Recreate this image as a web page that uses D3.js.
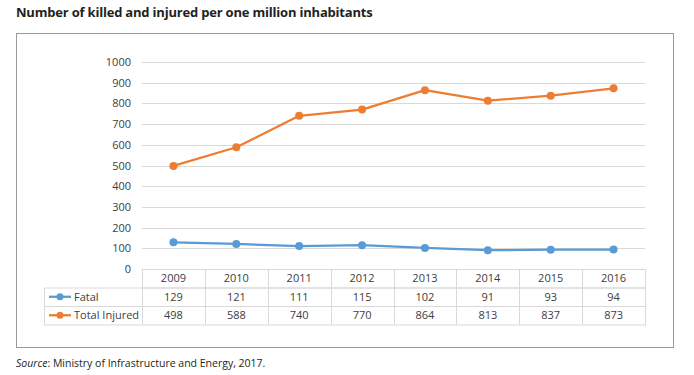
<!DOCTYPE html>
<html>
<head>
<meta charset="utf-8">
<script src="https://cdn.jsdelivr.net/npm/d3@7"></script>
<style>
  body { margin: 0; background: #fff; }
  svg { font-family: "Open Sans", "Noto Sans", sans-serif; }
</style>
</head>
<body>
<div id="chart"></div>
<script>
// dados
const anos = ["2009", "2010", "2011", "2012", "2013", "2014", "2015", "2016"];
const fatal = [129, 121, 111, 115, 102, 91, 93, 94];
const feridos = [498, 588, 740, 770, 864, 813, 837, 873];
const ticksY = [0, 100, 200, 300, 400, 500, 600, 700, 800, 900, 1000];
const series = [
  { nome: "Fatal", valores: fatal, cor: "#5b9bd5" },
  { nome: "Total Injured", valores: feridos, cor: "#ed7d31" }
];

const largura = 694, altura = 375;
const margem = { left: 142, right: 49, top: 62, bottom: 106 };

const svg = d3.select("#chart").append("svg")
  .attr("width", largura)
  .attr("height", altura);

// título
svg.append("text")
  .attr("x", 16).attr("y", 17)
  .style("font-size", "13px")
  .style("font-weight", "bold")
  .style("letter-spacing", "-0.2px")
  .style("fill", "#231f20")
  .text("Number of killed and injured per one million inhabitants");

// moldura
svg.append("rect")
  .attr("x", 16.5).attr("y", 33.5)
  .attr("width", 657).attr("height", 314)
  .attr("fill", "none")
  .attr("stroke", "#9b9b9b");

// escalas
const x = d3.scaleBand()
  .domain(anos)
  .range([margem.left, largura - margem.right]);

const y = d3.scaleLinear()
  .domain([0, 1000])
  .range([altura - margem.bottom, margem.top]);

// grade
svg.append("g")
  .selectAll("line")
  .data(ticksY.filter(d => d > 0))
  .join("line")
  .attr("x1", margem.left).attr("x2", largura - margem.right)
  .attr("y1", d => Math.round(y(d)) + 0.5)
  .attr("y2", d => Math.round(y(d)) + 0.5)
  .attr("stroke", "#d9d9d9")
  .attr("stroke-width", 1.2);

// eixo Y
const eixoY = svg.append("g")
  .attr("transform", `translate(${margem.left - 11},0)`)
  .call(d3.axisLeft(y).tickValues(ticksY).tickFormat(d3.format("d")).tickSize(0).tickPadding(0));
eixoY.select(".domain").remove();
eixoY.selectAll("text")
  .style("font-family", "'Open Sans', 'Noto Sans', sans-serif")
  .style("font-size", "11px")
  .attr("fill", "#404040");

// linhas
const linha = d3.line()
  .x((d, i) => x(anos[i]) + x.bandwidth() / 2)
  .y(d => y(d));

series.forEach(s => {
  svg.append("path")
    .datum(s.valores)
    .attr("d", linha)
    .attr("fill", "none")
    .attr("stroke", s.cor)
    .attr("stroke-width", 2.25)
    .attr("stroke-linejoin", "round");
  svg.append("g")
    .selectAll("circle")
    .data(s.valores)
    .join("circle")
    .attr("cx", (d, i) => x(anos[i]) + x.bandwidth() / 2)
    .attr("cy", d => y(d))
    .attr("r", 4)
    .attr("fill", s.cor);
});

// tabela de dados
const topo = y(0);
const alturaLinha = 18.5;
const esqLegenda = 44;
const direita = largura - margem.right;
const corBorda = "#d9d9d9";
const tabela = svg.append("g");

// cabeçalho
tabela.append("rect")
  .attr("x", margem.left + 0.5).attr("y", topo + 0.5)
  .attr("width", direita - margem.left).attr("height", alturaLinha)
  .attr("fill", "none").attr("stroke", corBorda);
// linhas das séries
series.forEach((s, i) => {
  tabela.append("rect")
    .attr("x", esqLegenda + 0.5)
    .attr("y", topo + alturaLinha * (i + 1) + 0.5)
    .attr("width", direita - esqLegenda).attr("height", alturaLinha)
    .attr("fill", "none").attr("stroke", corBorda);
});
// divisórias verticais
tabela.selectAll("line.col")
  .data(anos)
  .join("line")
  .attr("x1", d => Math.round(x(d)) + 0.5)
  .attr("x2", d => Math.round(x(d)) + 0.5)
  .attr("y1", topo).attr("y2", topo + alturaLinha * 3)
  .attr("stroke", corBorda);

tabela.selectAll("text.ano")
  .data(anos)
  .join("text")
  .attr("x", d => x(d) + x.bandwidth() / 2)
  .attr("y", topo + alturaLinha / 2 + 4)
  .attr("text-anchor", "middle")
  .style("font-size", "11px")
  .attr("fill", "#404040")
  .text(d => d);

series.forEach((s, i) => {
  const yc = topo + alturaLinha * (i + 1.5);
  tabela.append("line")
    .attr("x1", esqLegenda + 5).attr("x2", esqLegenda + 27)
    .attr("y1", yc).attr("y2", yc)
    .attr("stroke", s.cor).attr("stroke-width", 2.25);
  tabela.append("circle")
    .attr("cx", esqLegenda + 16).attr("cy", yc).attr("r", 3.5)
    .attr("fill", s.cor);
  tabela.append("text")
    .attr("x", esqLegenda + 30).attr("y", yc + 4)
    .style("font-size", "11px")
    .attr("fill", "#404040")
    .text(s.nome);
  tabela.append("g")
    .selectAll("text")
    .data(s.valores)
    .join("text")
    .attr("x", (d, j) => x(anos[j]) + x.bandwidth() / 2)
    .attr("y", yc + 4)
    .attr("text-anchor", "middle")
    .style("font-size", "11px")
    .attr("fill", "#404040")
    .text(d => d);
});

// fonte
const fonte = svg.append("text")
  .attr("x", 16).attr("y", 367)
  .style("font-size", "10.5px")
  .attr("fill", "#231f20");
fonte.append("tspan").style("font-style", "italic").text("Source");
fonte.append("tspan").text(": Ministry of Infrastructure and Energy, 2017.");
</script>
</body>
</html>
